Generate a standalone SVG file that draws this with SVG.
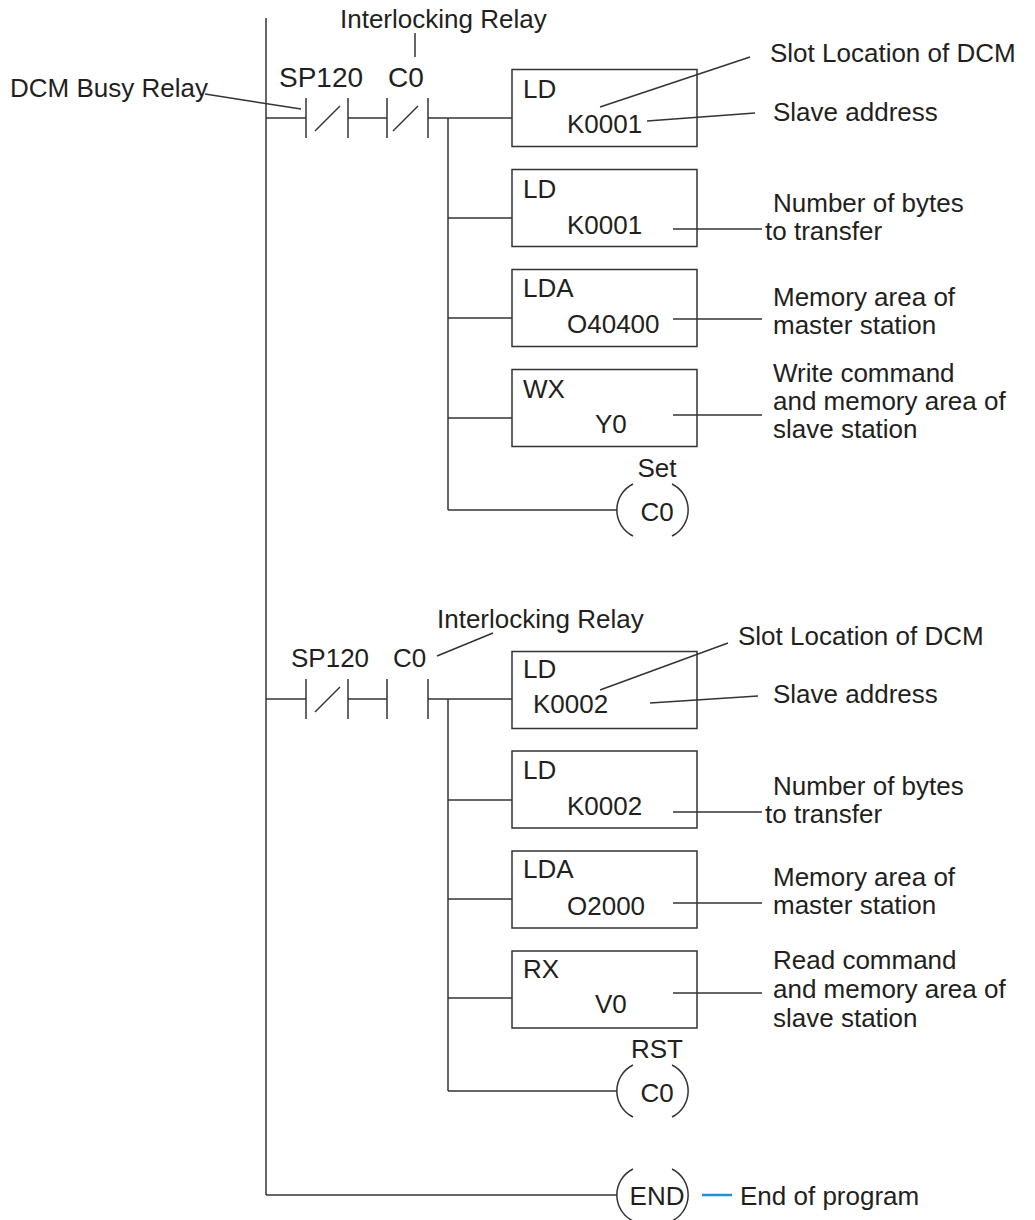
<svg xmlns="http://www.w3.org/2000/svg" width="1035" height="1220" viewBox="0 0 1035 1220">
<style>
text{font-family:"Liberation Sans",Arial,sans-serif;font-size:26px;fill:#231f20}
.big{font-size:28px}
.ln{stroke:#333;stroke-width:1.5;fill:none}
.box{stroke:#333;stroke-width:1.5;fill:none}
.mid{text-anchor:middle}
</style>
<rect width="1035" height="1220" fill="#fff"/>
<g id="connectors" class="ln">
<line x1="266" y1="18" x2="266" y2="1195"/>
<line x1="266" y1="118" x2="306" y2="118"/>
<line x1="348" y1="118" x2="387" y2="118"/>
<line x1="428" y1="118" x2="512" y2="118"/>
<line x1="448" y1="118" x2="448" y2="510"/>
<line x1="448" y1="218" x2="512" y2="218"/>
<line x1="448" y1="318" x2="512" y2="318"/>
<line x1="448" y1="418" x2="512" y2="418"/>
<line x1="448" y1="510" x2="617" y2="510"/>
<line x1="266" y1="699" x2="306" y2="699"/>
<line x1="348" y1="699" x2="387" y2="699"/>
<line x1="428" y1="699" x2="512" y2="699"/>
<line x1="448" y1="699" x2="448" y2="1091"/>
<line x1="448" y1="800" x2="512" y2="800"/>
<line x1="448" y1="899" x2="512" y2="899"/>
<line x1="448" y1="998" x2="512" y2="998"/>
<line x1="448" y1="1091" x2="617" y2="1091"/>
<line x1="266" y1="1195" x2="617" y2="1195"/>
<line x1="205" y1="94" x2="301" y2="109"/>
<line x1="415" y1="33" x2="415" y2="57"/>
<line x1="600" y1="107" x2="750" y2="57"/>
<line x1="647" y1="121" x2="755" y2="113"/>
<line x1="673" y1="229" x2="762" y2="229"/>
<line x1="673" y1="319" x2="762" y2="319"/>
<line x1="673" y1="415" x2="762" y2="415"/>
<line x1="437" y1="656" x2="493" y2="633"/>
<line x1="600" y1="690" x2="728" y2="643"/>
<line x1="650" y1="703" x2="758" y2="696"/>
<line x1="673" y1="812" x2="762" y2="812"/>
<line x1="673" y1="903" x2="762" y2="903"/>
<line x1="673" y1="993" x2="762" y2="993"/>
<line x1="702" y1="1195" x2="732" y2="1195" style="stroke:#1f8fd8;stroke-width:2.5"/>
</g>
<g id="contact-sp120-1" class="ln">
<line x1="306" y1="98" x2="306" y2="138"/><line x1="348" y1="98" x2="348" y2="138"/><line x1="315" y1="131" x2="340" y2="106"/>
</g>
<g id="contact-c0-1" class="ln">
<line x1="387" y1="98" x2="387" y2="138"/><line x1="428" y1="98" x2="428" y2="138"/><line x1="393" y1="131" x2="418" y2="106"/>
</g>
<g id="contact-sp120-2" class="ln">
<line x1="306" y1="679" x2="306" y2="719"/><line x1="348" y1="679" x2="348" y2="719"/><line x1="315" y1="712" x2="340" y2="687"/>
</g>
<g id="contact-c0-2" class="ln">
<line x1="387" y1="679" x2="387" y2="719"/><line x1="428" y1="679" x2="428" y2="719"/>
</g>
<g id="labels-contacts">
<text x="279" y="87" class="big">SP120</text>
<text x="388" y="87" class="big">C0</text>
<text x="10" y="97">DCM Busy Relay</text>
<text x="340" y="28">Interlocking Relay</text>
<text x="291" y="667">SP120</text>
<text x="393" y="667">C0</text>
<text x="437" y="628">Interlocking Relay</text>
</g>
<g id="box-r1-1"><rect class="box" x="512" y="69.5" width="185" height="77"/><text x="523" y="98">LD</text><text x="567" y="133">K0001</text></g>
<g id="box-r1-2"><rect class="box" x="512" y="169.5" width="185" height="77"/><text x="523" y="198">LD</text><text x="567" y="234">K0001</text></g>
<g id="box-r1-3"><rect class="box" x="512" y="269.5" width="185" height="77"/><text x="523" y="297">LDA</text><text x="567" y="333">O40400</text></g>
<g id="box-r1-4"><rect class="box" x="512" y="369.5" width="185" height="77"/><text x="523" y="398">WX</text><text x="595" y="433">Y0</text></g>
<g id="box-r2-1"><rect class="box" x="512" y="651.5" width="185" height="77"/><text x="523" y="678">LD</text><text x="533" y="713">K0002</text></g>
<g id="box-r2-2"><rect class="box" x="512" y="751" width="185" height="77"/><text x="523" y="779">LD</text><text x="567" y="815">K0002</text></g>
<g id="box-r2-3"><rect class="box" x="512" y="851" width="185" height="77"/><text x="523" y="878">LDA</text><text x="567" y="915">O2000</text></g>
<g id="box-r2-4"><rect class="box" x="512" y="951" width="185" height="77"/><text x="523" y="978">RX</text><text x="595" y="1013">V0</text></g>
<g id="coil-set">
<path class="ln" d="M633,484 A29,29 0 0 0 633,536 M672,484 A29,29 0 0 1 672,536"/>
<text x="657" y="477" class="mid">Set</text><text x="657" y="521" class="mid">C0</text>
</g>
<g id="coil-rst">
<path class="ln" d="M633,1065 A29,29 0 0 0 633,1117 M672,1065 A29,29 0 0 1 672,1117"/>
<text x="657" y="1058" class="mid">RST</text><text x="657" y="1102" class="mid">C0</text>
</g>
<g id="coil-end">
<path class="ln" d="M633,1169 A29,29 0 0 0 633,1221 M672,1169 A29,29 0 0 1 672,1221"/>
<text x="657" y="1205" class="mid">END</text>
</g>
<g id="annotations">
<text x="770" y="62">Slot Location of DCM</text>
<text x="773" y="121">Slave address</text>
<text x="773" y="212">Number of bytes</text>
<text x="765" y="240">to transfer</text>
<text x="773" y="306">Memory area of</text>
<text x="773" y="334">master station</text>
<text x="773" y="382">Write command</text>
<text x="773" y="410">and memory area of</text>
<text x="773" y="438">slave station</text>
<text x="738" y="645">Slot Location of DCM</text>
<text x="773" y="703">Slave address</text>
<text x="773" y="795">Number of bytes</text>
<text x="765" y="823">to transfer</text>
<text x="773" y="886">Memory area of</text>
<text x="773" y="914">master station</text>
<text x="773" y="969">Read command</text>
<text x="773" y="998">and memory area of</text>
<text x="773" y="1027">slave station</text>
<text x="740" y="1205">End of program</text>
</g>
</svg>
